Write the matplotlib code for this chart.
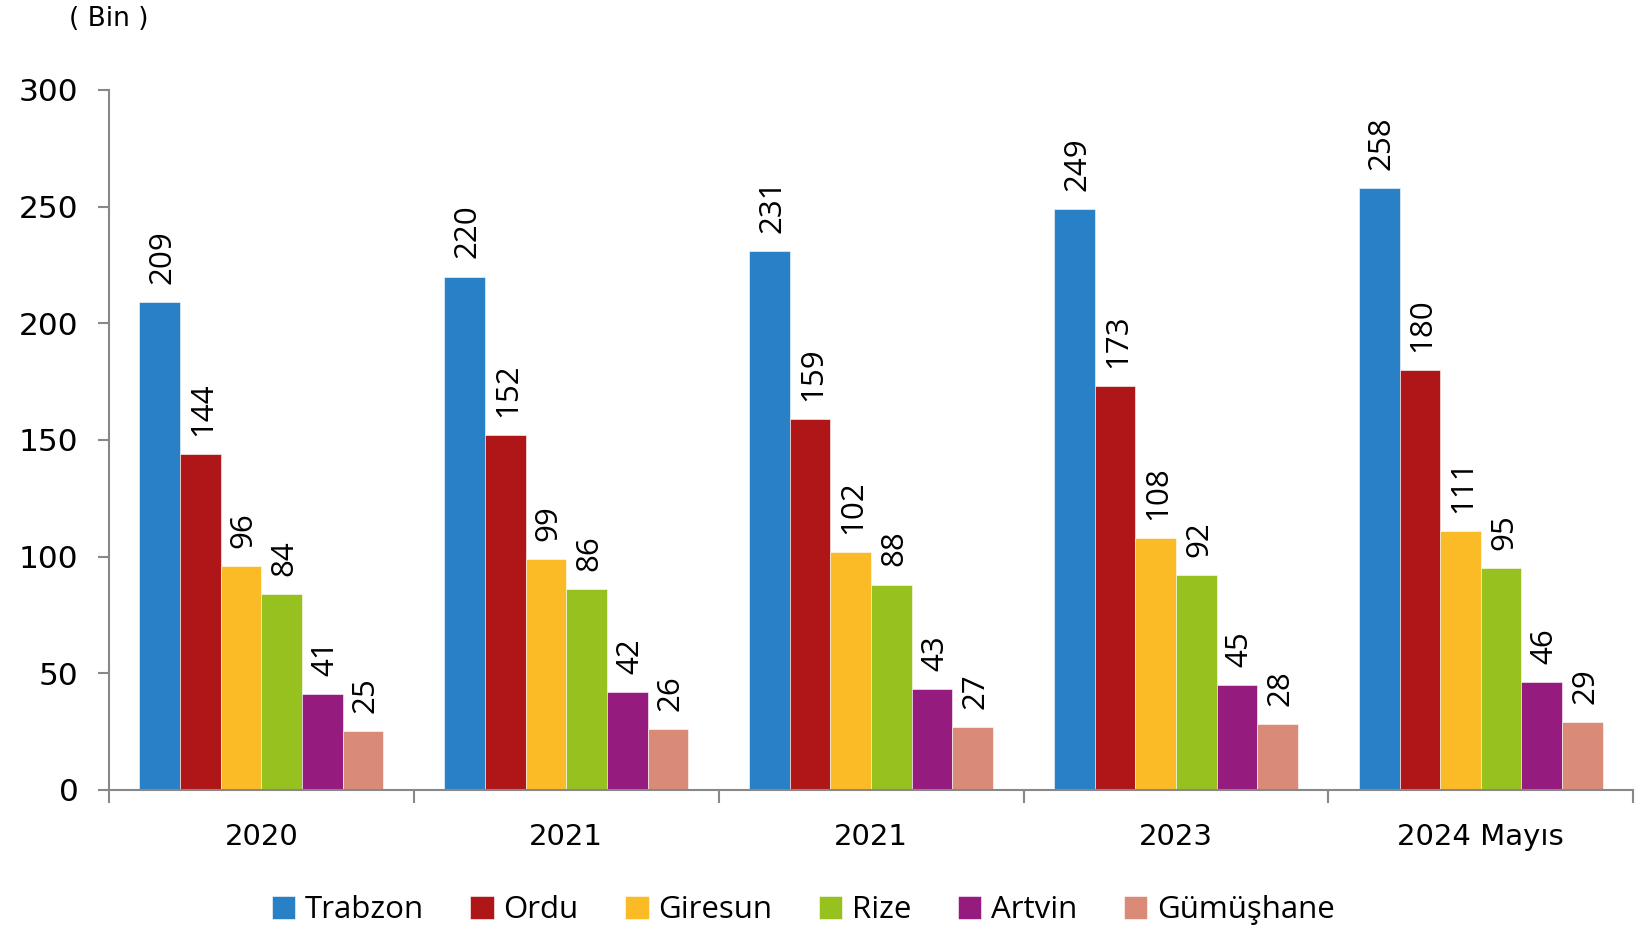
import numpy as np
import matplotlib.pyplot as plt

years = ['2020', '2021', '2021', '2023', '2024 Mayıs']
provinces = ['Trabzon', 'Ordu', 'Giresun', 'Rize', 'Artvin', 'Gümüşhane']
trabzon = [209, 220, 231, 249, 258]
ordu = [144, 152, 159, 173, 180]
giresun = [96, 99, 102, 108, 111]
rize = [84, 86, 88, 92, 95]
artvin = [41, 42, 43, 45, 46]
gumushane = [25, 26, 27, 28, 29]
colors = ['#2880C6', '#AE1618', '#FBBB26', '#97C11F', '#951B7E', '#D98B77']

series = [trabzon, ordu, giresun, rize, artvin, gumushane]

fig = plt.figure(figsize=(16.39, 9.27), dpi=100)
ax = fig.add_axes([0.0665, 0.148, 0.930, 0.755])

x = np.arange(len(years))
w = 0.8 / len(series)
for i, (vals, name, c) in enumerate(zip(series, provinces, colors)):
    pos = x - 0.4 + w * (i + 0.5)
    ax.bar(pos, vals, width=w, color=c, edgecolor='white', linewidth=0.4, label=name)
    for p, v in zip(pos, vals):
        ax.annotate(str(v), (p, v), xytext=(2, 13), textcoords='offset points',
                    rotation=90, ha='center', va='bottom', fontsize=22.5,
                    family='Open Sans')

ax.set_xlim(-0.5, len(years) - 0.5)
ax.set_ylim(0, 300)
ax.set_yticks(range(0, 301, 50))
ax.tick_params(axis='y', labelsize=22.5, length=8, width=1.5, color='#888888', pad=14)
ax.set_xticks(np.arange(-0.5, len(years), 1))
ax.set_xticklabels([])
ax.set_xticks(x, minor=True)
ax.set_xticklabels(years, minor=True, fontsize=21)
ax.tick_params(axis='x', which='major', length=9, width=1.5, color='#888888')
ax.tick_params(axis='x', which='minor', length=0, pad=24)

for s in ['top', 'right']:
    ax.spines[s].set_visible(False)
for s in ['left', 'bottom']:
    ax.spines[s].set_color('#888888')
    ax.spines[s].set_linewidth(1.5)

fig.text(0.042, 0.98, '( Bin )', fontsize=19, va='center')

fig.legend(loc='center', bbox_to_anchor=(0.49, 0.018), ncol=6, frameon=False,
           prop={'family': 'Open Sans', 'size': 22.5}, handlelength=0.75,
           handleheight=0.75, handletextpad=0.3, columnspacing=1.5)

fig.savefig('out.png', dpi=100)
